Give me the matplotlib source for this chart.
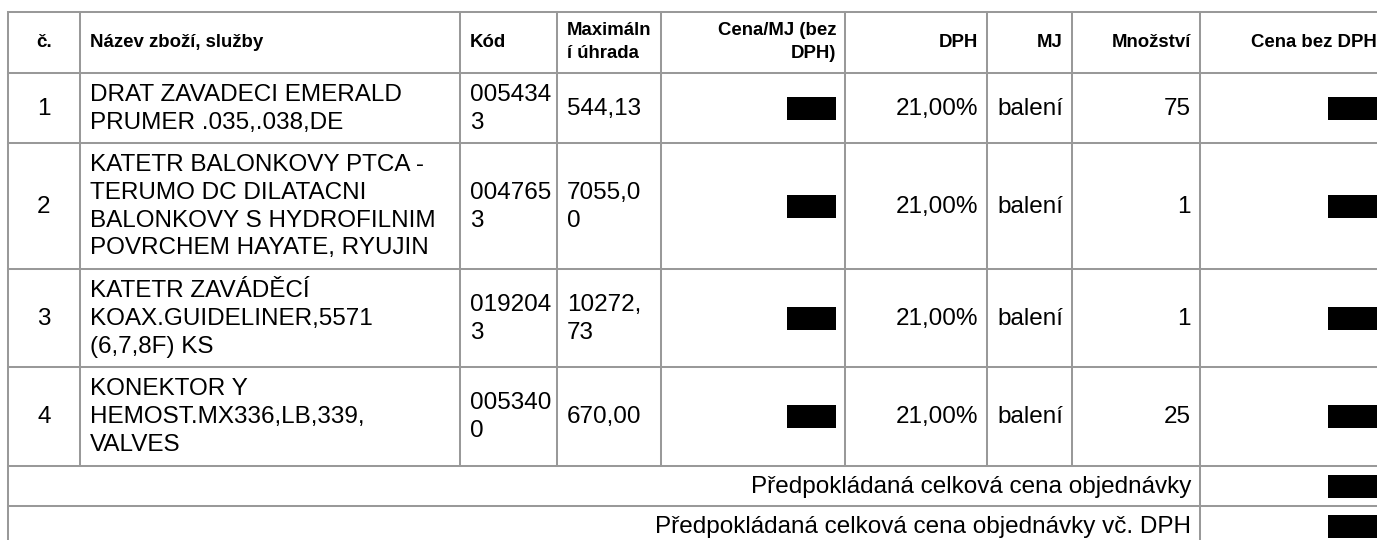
import matplotlib
matplotlib.use("Agg")
import matplotlib.pyplot as plt
from matplotlib.patches import Rectangle

# ---------------- data ----------------
header_labels = ["č.", "Název zboží, služby", "Kód", "Maximáln\ní úhrada",
                 "Cena/MJ (bez\nDPH)", "DPH", "MJ", "Množství", "Cena bez DPH"]
item_numbers = ["1", "2", "3", "4"]
item_names = ["DRAT ZAVADECI EMERALD\nPRUMER .035,.038,DE",
              "KATETR BALONKOVY PTCA -\nTERUMO DC DILATACNI\nBALONKOVY S HYDROFILNIM\nPOVRCHEM HAYATE, RYUJIN",
              "KATETR ZAVÁDĚCÍ\nKOAX.GUIDELINER,5571\n(6,7,8F) KS",
              "KONEKTOR Y\nHEMOST.MX336,LB,339,\nVALVES"]
item_codes = ["005434\n3", "004765\n3", "019204\n3", "005340\n0"]
max_refund = ["544,13", "7055,0\n0", "10272,\n73", "670,00"]
unit_price = [None, None, None, None]      # redacted
vat_rate = ["21,00%", "21,00%", "21,00%", "21,00%"]
unit = ["balení", "balení", "balení", "balení"]
quantity = ["75", "1", "1", "25"]
price_total = [None, None, None, None]     # redacted
footer_labels = ["Předpokládaná celková cena objednávky",
                 "Předpokládaná celková cena objednávky vč. DPH"]
footer_values = [None, None]               # redacted

# ---------------- layout (pixels) ----------------
W, H = 1377, 540
col_x = [8, 80, 460, 557, 661, 845, 987, 1072, 1200, 1386]
row_y = [12, 73, 143, 269, 367, 466, 506, 546]
header_align = ["center", "left", "left", "left", "right", "right", "right", "right", "right"]
body_align = ["center", "left", "left", "left", "right", "right", "left", "right", "right"]
pad_l, pad_r = 10, 9
grid_color = "#999999"
grid_lw = 1.45
body_px, head_px = 24.2, 18.6
body_pitch, head_pitch = 27.8, 23.0
redact_w, redact_h = 49, 23

fig = plt.figure(figsize=(W / 100, H / 100), dpi=100)
ax = fig.add_axes([0, 0, 1, 1])
ax.set_xlim(0, W)
ax.set_ylim(H, 0)
ax.axis("off")

FONT = "Liberation Sans"


def px2pt(px):
    return px * 72 / 100


def cell_text(text, c0, c1, r0, r1, align, size_px, pitch, weight="normal", dy=-2.0):
    lines = text.split("\n")
    n = len(lines)
    cy = (r0 + r1) / 2 + dy
    if align == "left":
        x = c0 + pad_l
    elif align == "right":
        x = c1 - pad_r
    else:
        x = (c0 + c1) / 2
    for i, ln in enumerate(lines):
        y = cy + (i - (n - 1) / 2) * pitch + 0.36 * size_px
        ax.text(x, y, ln, ha=align, va="baseline", fontsize=px2pt(size_px),
                family=FONT, weight=weight, color="black")


def redaction(c1, r0, r1):
    cy = (r0 + r1) / 2
    ax.add_patch(Rectangle((c1 - pad_r - redact_w, cy - redact_h / 2), redact_w, redact_h,
                           facecolor="black", edgecolor="none"))


# header
for j, lab in enumerate(header_labels):
    cell_text(lab, col_x[j], col_x[j + 1], row_y[0], row_y[1], header_align[j],
              head_px, head_pitch, weight="bold", dy=-2.5)

# body rows
columns = [item_numbers, item_names, item_codes, max_refund, unit_price,
           vat_rate, unit, quantity, price_total]
for i in range(len(item_numbers)):
    r0, r1 = row_y[i + 1], row_y[i + 2]
    for j, col in enumerate(columns):
        val = col[i]
        if val is None:
            redaction(col_x[j + 1], r0, r1)
        else:
            cell_text(val, col_x[j], col_x[j + 1], r0, r1, body_align[j], body_px, body_pitch)

# footer rows
for k, lab in enumerate(footer_labels):
    r0, r1 = row_y[5 + k], row_y[6 + k]
    cell_text(lab, col_x[0], col_x[8], r0, r1, "right", body_px, body_pitch)
    if footer_values[k] is None:
        redaction(col_x[9], r0, r1)

# grid
for y in row_y:
    ax.plot([col_x[0], col_x[-1]], [y, y], color=grid_color, lw=grid_lw,
            solid_capstyle="projecting")
for j, x in enumerate(col_x):
    bottom = row_y[-1] if j in (0, 8, 9) else row_y[5]
    ax.plot([x, x], [row_y[0], bottom], color=grid_color, lw=grid_lw,
            solid_capstyle="projecting")

fig.savefig("out.png", dpi=100, facecolor="white")
